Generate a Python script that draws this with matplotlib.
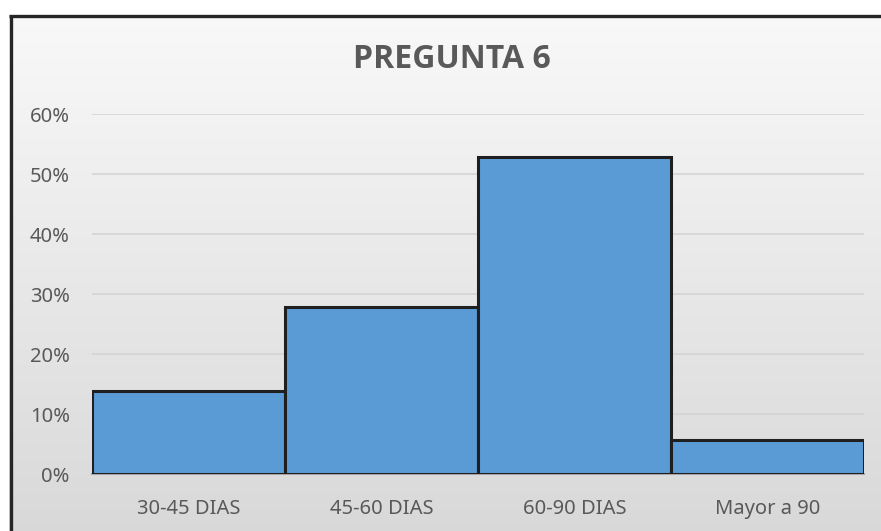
import matplotlib.pyplot as plt
import numpy as np
from matplotlib.ticker import PercentFormatter

categories = ["30-45 DIAS", "45-60 DIAS", "60-90 DIAS", "Mayor a 90"]
values = [0.139, 0.278, 0.528, 0.056]
y_ticks = [0, 0.1, 0.2, 0.3, 0.4, 0.5, 0.6]

plt.rcParams['font.family'] = ['Noto Sans', 'DejaVu Sans']
W, H = 881, 531
fig = plt.figure(figsize=(W / 100, H / 100), dpi=100)
fig.patch.set_facecolor("white")

# gradient chart background with dark frame on left/top
bg = fig.add_axes([9 / W, 0, 1 - 9 / W, (H - 15) / H])
grad = np.linspace(0.85, 0.975, 256).reshape(-1, 1)
bg.imshow(np.dstack([grad, grad, grad]), aspect="auto", origin="lower",
          extent=[0, 1, 0, 1])
bg.set_xlim(0, 1)
bg.set_ylim(0, 1)
bg.axis("off")
fig.add_artist(plt.Line2D([10.5 / W, 10.5 / W], [0, (H - 14.5) / H],
                          color="#262626", lw=2.4, solid_capstyle="butt"))
fig.add_artist(plt.Line2D([9 / W, 1], [(H - 15.5) / H, (H - 15.5) / H],
                          color="#262626", lw=2.4, solid_capstyle="butt"))

ax = fig.add_axes([92 / W, (H - 474) / H, (864 - 92) / W, (474 - 114) / H])
ax.patch.set_alpha(0)
x = np.arange(len(categories))
ax.bar(x, values, width=1.0, color="#5B9BD5", edgecolor="#1f1f1f",
       linewidth=2.2, zorder=3)
ax.set_xlim(-0.5, 3.5)
ax.set_ylim(0, 0.6)
ax.set_yticks(y_ticks)
ax.yaxis.set_major_formatter(PercentFormatter(1.0, decimals=0))
ax.set_xticks(x)
ax.set_xticklabels(categories)
ax.grid(axis="y", color="#d4d4d4", lw=1.2, zorder=0)
for s in ["top", "right", "left"]:
    ax.spines[s].set_visible(False)
ax.spines["bottom"].set_color("#a6a6a6")
ax.spines["bottom"].set_linewidth(1.5)
ax.tick_params(axis="both", length=0, labelsize=14.5, labelcolor="#595959")
ax.tick_params(axis="y", pad=16)
ax.tick_params(axis="x", pad=18)

fig.text(452 / W, (H - 60) / H, "PREGUNTA 6", ha="center", va="center",
         fontsize=23, fontweight="bold", color="#595959",
         family=['Open Sans', 'DejaVu Sans'])

fig.savefig("out.png", dpi=100)
